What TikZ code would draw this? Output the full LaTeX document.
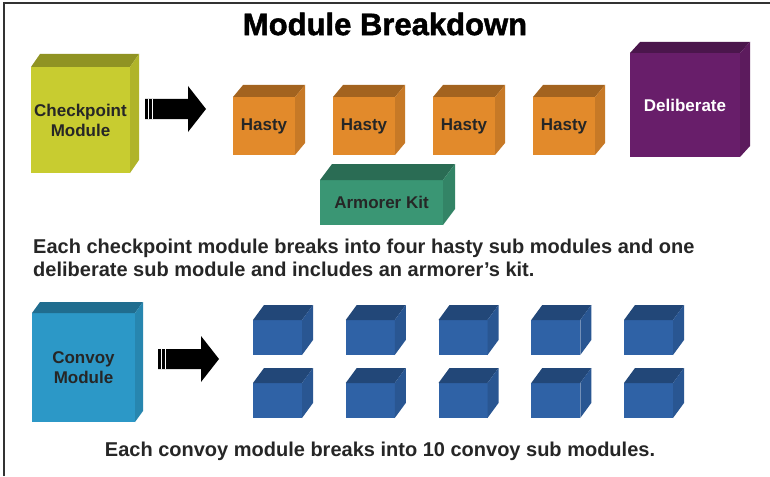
\documentclass[tikz,border=0pt]{standalone}
\usepackage{fontspec}
\setmainfont{Liberation Sans}
\newfontfamily\heavyfont[BoldFeatures={FakeBold=1.6}]{Liberation Sans}
\usetikzlibrary{positioning}

\definecolor{chkyellow}{RGB}{200,204,48}
\definecolor{hastyorange}{RGB}{226,138,43}
\definecolor{kitteal}{RGB}{58,150,116}
\definecolor{delpurple}{RGB}{104,30,106}
\definecolor{convoycyan}{RGB}{44,152,199}
\definecolor{subblue}{RGB}{47,98,166}
\definecolor{framegray}{RGB}{50,50,50}

\tikzset{
  cubeface/.style={inner sep=0pt, outer sep=0pt, align=center,
    font=\bfseries\fontsize{17}{20}\selectfont, text=black!85},
  bodytext/.style={inner sep=0pt, align=left, text=black!85,
    font=\bfseries\fontsize{20}{23}\selectfont},
}

% front face as a node, top and side faces drawn from its anchors
% #1 name, #2 centre, #3 width, #4 height, #5 colour, #6 label
\newcommand{\drawcube}[6]{%
  \node[cubeface, fill=#5, minimum width=#3pt, minimum height=#4pt] (#1) at #2 {#6};
  \fill[#5!72!black] (#1.north west) -- ++(\cdx,-\cdy) -- ++(#3,0) -- (#1.north east) -- cycle;
  \fill[#5!88!black] (#1.north east) -- ++(\cdx,-\cdy) -- ++(0,#4) -- (#1.south east) -- cycle;
}
% black block arrow with a striped tail, from a named coordinate
\newcommand{\blockarrow}[1]{%
  \fill[black] (#1) ++(0,-10) -- ++(43,0) -- ++(0,-13) -- ++(18,23) -- ++(-18,23)
    -- ++(0,-13) -- ++(-43,0) -- cycle;
  \draw[white, line width=1.3pt] (#1) ++(3.5,-10) -- ++(0,20);
  \draw[white, line width=1.3pt] (#1) ++(7.5,-10) -- ++(0,20);
}

\begin{document}
\begin{tikzpicture}[x=1pt,y=-1pt]
    \useasboundingbox[fill=white] (0,0) rectangle (770,476);
    \draw[framegray, line width=2.5pt] (4,476) -- (4,3) -- (770,3);

    \node (title) at (385,24) {\heavyfont\bfseries\fontsize{31}{33}\selectfont Module Breakdown};

    % checkpoint module and its sub modules
    \def\cdx{9}\def\cdy{13}
    \drawcube{checkpoint}{(80.5,120)}{99}{106}{chkyellow}{Checkpoint\\Module}
    \coordinate (arrowtop) at (145,109);
    \blockarrow{arrowtop}
    \def\cdx{10}\def\cdy{12}
    \foreach \i/\x in {1/264,2/364,3/464,4/564}{
        \drawcube{hasty\i}{(\x,126)}{62}{58}{hastyorange}{Hasty}
    }
    \def\cdx{10}\def\cdy{11}
    \drawcube{deliberate}{(685,105)}{110}{104}{delpurple}{\textcolor{white}{Deliberate}}
    \def\cdx{12}\def\cdy{16}
    \drawcube{armorer}{(381.5,202.5)}{123}{45}{kitteal}{Armorer Kit}

    \node[bodytext, anchor=north west] (chkptnote) at (33,239)
        {Each checkpoint module breaks into four hasty sub modules and one\\
         deliberate sub module and includes an armorer’s kit.};

    % convoy module and its 10 sub modules
    \def\cdx{8}\def\cdy{11}
    \drawcube{convoy}{(83.5,367.5)}{103}{109}{convoycyan}{Convoy\\Module}
    \coordinate (arrowbottom) at (158,359);
    \blockarrow{arrowbottom}
    \def\cdx{11}\def\cdy{15}
    \foreach \c/\x in {1/277.5,2/370.25,3/463,4/555.75,5/648.5}{
        \drawcube{subtop\c}{(\x,337.5)}{49}{35}{subblue}{}
        \drawcube{subbot\c}{(\x,400.5)}{49}{35}{subblue}{}
    }

    \node[bodytext] (convoynote) at (380,451)
        {Each convoy module breaks into 10 convoy sub modules.};
\end{tikzpicture}
\end{document}
